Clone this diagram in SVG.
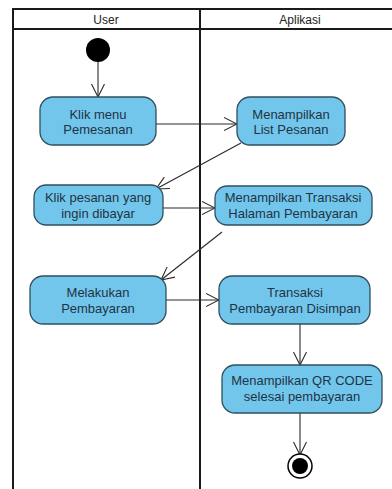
<svg xmlns="http://www.w3.org/2000/svg" width="392" height="489" viewBox="0 0 392 489">
  <style>
    .lane { fill: none; stroke: #1a1a1a; stroke-width: 2; }
    .hdr { font-family: "Liberation Sans", Arial, sans-serif; font-size: 12px; fill: #222; text-anchor: middle; }
    .act rect { fill: #72c6ec; stroke: #2f4f5f; stroke-width: 1.3; }
    .act text { font-family: "Liberation Sans", Arial, sans-serif; font-size: 13px; fill: #1f3444; text-anchor: middle; }
    .flow { fill: none; stroke: #2a2a2a; stroke-width: 1.1; marker-end: url(#open); }
  </style>
  <defs>
    <marker id="open" viewBox="0 0 14 14" refX="13" refY="7" markerWidth="14" markerHeight="14" markerUnits="userSpaceOnUse" orient="auto">
      <path d="M0,0.5 L13,7 L0,13.5" fill="none" stroke="#2a2a2a" stroke-width="1.1"/>
    </marker>
  </defs>
  <rect width="392" height="489" fill="#ffffff"/>

  <!-- swimlane frame -->
  <g id="swimlanes">
    <path class="lane" d="M13,495 V9 H400 M13,29 H400 M200,9 V495"/>
    <text class="hdr" x="106" y="24">User</text>
    <text class="hdr" x="300" y="24">Aplikasi</text>
  </g>

  <!-- connectors -->
  <g id="connectors">
    <line class="flow" x1="98" y1="60" x2="98" y2="97"/>
    <line class="flow" x1="156" y1="124" x2="237" y2="124"/>
    <line class="flow" x1="241" y1="143" x2="156" y2="189"/>
    <line class="flow" x1="163" y1="208" x2="215" y2="208"/>
    <line class="flow" x1="222" y1="232" x2="161" y2="280"/>
    <line class="flow" x1="166" y1="300" x2="219" y2="300"/>
    <line class="flow" x1="300" y1="324" x2="300" y2="365"/>
    <line class="flow" x1="300" y1="413" x2="300" y2="455"/>
  </g>

  <g id="start">
    <circle cx="98" cy="50" r="12" fill="#000"/>
  </g>

  <g id="klik-menu" class="act">
    <rect x="40" y="97" width="116" height="48" rx="13"/>
    <text x="98" y="119">Klik menu</text>
    <text x="98" y="134">Pemesanan</text>
  </g>

  <g id="list-pesanan" class="act">
    <rect x="237" y="97" width="108" height="48" rx="13"/>
    <text x="291" y="119">Menampilkan</text>
    <text x="291" y="134">List Pesanan</text>
  </g>

  <g id="klik-pesanan" class="act">
    <rect x="34" y="185" width="129" height="40" rx="12"/>
    <text x="98" y="202">Klik pesanan yang</text>
    <text x="98" y="218">ingin dibayar</text>
  </g>

  <g id="halaman-pembayaran" class="act">
    <rect x="215" y="186" width="157" height="39" rx="12"/>
    <text x="293" y="202">Menampilkan Transaksi</text>
    <text x="293" y="218">Halaman Pembayaran</text>
  </g>

  <g id="melakukan-pembayaran" class="act">
    <rect x="30" y="276" width="136" height="48" rx="13"/>
    <text x="98" y="297">Melakukan</text>
    <text x="98" y="313">Pembayaran</text>
  </g>

  <g id="transaksi-disimpan" class="act">
    <rect x="219" y="276" width="151" height="48" rx="13"/>
    <text x="295" y="297">Transaksi</text>
    <text x="295" y="313">Pembayaran Disimpan</text>
  </g>

  <g id="qr-code" class="act">
    <rect x="222" y="365" width="160" height="48" rx="13"/>
    <text x="302" y="385">Menampilkan QR CODE</text>
    <text x="302" y="401">selesai pembayaran</text>
  </g>

  <g id="end">
    <circle cx="300" cy="466" r="12" fill="#fff" stroke="#000" stroke-width="1.5"/>
    <circle cx="300" cy="466" r="8" fill="#000"/>
  </g>
</svg>
